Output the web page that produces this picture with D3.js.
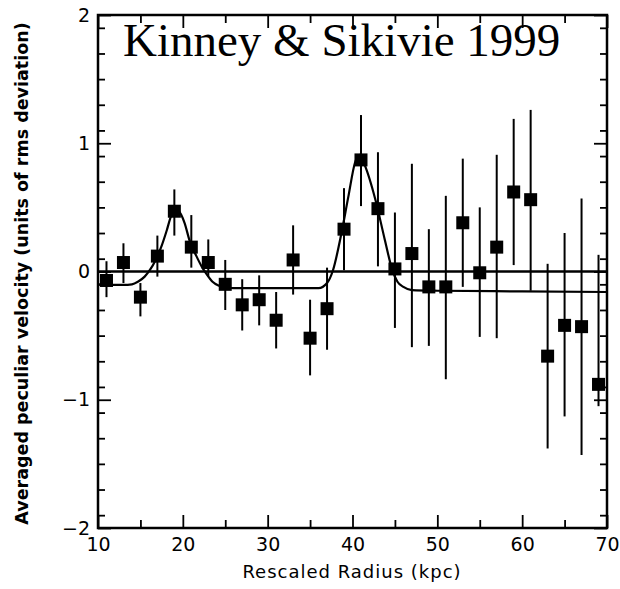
<!DOCTYPE html>
<html>
<head>
<meta charset="utf-8">
<script src="https://cdn.jsdelivr.net/npm/d3@7"></script>
<style>
  html, body { margin: 0; padding: 0; background: #fff; }
  svg text { fill: #000; }
</style>
</head>
<body>
<svg id="chart" width="620" height="589"></svg>
<script>
// data
const radius = [11, 13, 15, 17, 19, 21, 23, 25, 27, 29, 31, 33, 35, 37, 39,
                41, 43, 45, 47, 49, 51, 53, 55, 57, 59, 61, 63, 65, 67, 69];
const velocity = [-0.07, 0.07, -0.20, 0.12, 0.47, 0.19, 0.07, -0.10, -0.26, -0.22,
                  -0.38, 0.09, -0.52, -0.29, 0.33, 0.87, 0.49, 0.02, 0.14, -0.12,
                  -0.12, 0.38, -0.01, 0.19, 0.62, 0.56, -0.66, -0.42, -0.43, -0.88];
const errHigh = [0.08, 0.22, -0.09, 0.28, 0.64, 0.44, 0.25, 0.09, -0.06, -0.03,
                 -0.16, 0.36, -0.22, 0.03, 0.65, 1.22, 0.93, 0.46, 0.84, 0.33,
                 0.59, 0.88, 0.50, 0.91, 1.19, 1.26, 0.06, 0.30, 0.57, 0.13];
const errLow = [-0.20, -0.09, -0.35, -0.04, 0.28, 0.03, -0.04, -0.30, -0.46, -0.42,
                -0.60, -0.18, -0.81, -0.61, 0.01, 0.51, 0.04, -0.44, -0.59, -0.58,
                -0.84, -0.12, -0.51, -0.52, 0.05, -0.15, -1.38, -1.13, -1.43, -1.05];

// fitted curve (caustic model), traced point by point
const fitX = [10, 13, 14, 14.7, 15.5, 16.1, 16.8, 17.5, 18.1, 18.6, 19.0, 19.5, 20.2,
              20.8, 21.6, 22.3, 22.8, 23.5, 24.2, 25, 26, 30, 36, 37, 37.7, 38.7,
              39.5, 40.3, 40.8, 41.5, 42.7, 43.8, 44.7, 45.3, 46, 47, 50, 60, 70];
const fitY = [-0.10, -0.105, -0.10, -0.08, -0.04, 0.01, 0.09, 0.20, 0.32, 0.43, 0.48,
              0.47, 0.38, 0.24, 0.12, 0.03, -0.02, -0.08, -0.11, -0.125, -0.13, -0.13,
              -0.13, -0.09, 0.01, 0.30, 0.58, 0.85, 0.91, 0.82, 0.56, 0.25, 0.01,
              -0.08, -0.12, -0.145, -0.15, -0.155, -0.16];

const xMajor = [10, 20, 30, 40, 50, 60, 70];
const xMinor = [15, 25, 35, 45, 55, 65];
const yMajor = [-2, -1, 0, 1, 2];
const yMinor = d3.range(-19, 20, 2).map(d => d / 10).filter(d => Math.abs(d) !== 1);

const margin = { top: 15, right: 13, bottom: 61, left: 98 };
const W = 620, H = 589;
const width = W - margin.left - margin.right;
const height = H - margin.top - margin.bottom;

const svg = d3.select("#chart");
const g = svg.append("g").attr("transform", `translate(${margin.left},${margin.top})`);

const x = d3.scaleLinear().domain([10, 70]).range([0, width]);
const y = d3.scaleLinear().domain([-2, 2]).range([height, 0]);

const tickFont = "DejaVu Sans, sans-serif";

// axes: ticks point inward on all four sides
function styleAxis(sel) {
    sel.select(".domain").remove();
    sel.selectAll(".tick line").attr("stroke", "#000").attr("stroke-width", 1.8);
    sel.selectAll(".tick text").attr("font-family", tickFont).attr("font-size", 19).attr("fill", "#000");
}

g.append("g").attr("transform", `translate(0,${height})`)
    .call(d3.axisBottom(x).tickValues(xMajor).tickSizeInner(-13).tickSizeOuter(0).tickPadding(10))
    .call(styleAxis);
g.append("g").attr("transform", `translate(0,${height})`)
    .call(d3.axisBottom(x).tickValues(xMinor).tickSizeInner(-8).tickSizeOuter(0).tickFormat(""))
    .call(styleAxis);
g.append("g")
    .call(d3.axisTop(x).tickValues(xMajor).tickSizeInner(-13).tickSizeOuter(0).tickFormat(""))
    .call(styleAxis);
g.append("g")
    .call(d3.axisTop(x).tickValues(xMinor).tickSizeInner(-8).tickSizeOuter(0).tickFormat(""))
    .call(styleAxis);

g.append("g")
    .call(d3.axisLeft(y).tickValues(yMajor).tickSizeInner(-13).tickSizeOuter(0).tickPadding(8)
        .tickFormat(d => d < 0 ? "\u2212" + Math.abs(d) : d))
    .call(styleAxis);
g.append("g")
    .call(d3.axisLeft(y).tickValues(yMinor).tickSizeInner(-7).tickSizeOuter(0).tickFormat(""))
    .call(styleAxis);
g.append("g").attr("transform", `translate(${width},0)`)
    .call(d3.axisRight(y).tickValues(yMajor).tickSizeInner(-13).tickSizeOuter(0).tickFormat(""))
    .call(styleAxis);
g.append("g").attr("transform", `translate(${width},0)`)
    .call(d3.axisRight(y).tickValues(yMinor).tickSizeInner(-7).tickSizeOuter(0).tickFormat(""))
    .call(styleAxis);

// frame
g.append("rect")
    .attr("x", 0).attr("y", 0)
    .attr("width", width).attr("height", height)
    .attr("fill", "none")
    .attr("stroke", "#000")
    .attr("stroke-width", 2.5);

// zero line
g.append("line")
    .attr("x1", 0).attr("x2", width)
    .attr("y1", y(0)).attr("y2", y(0))
    .attr("stroke", "#000")
    .attr("stroke-width", 2.5);

// fitted curve
const fitPts = fitX.map((v, i) => [v, fitY[i]]);
g.append("path")
    .datum(fitPts)
    .attr("fill", "none")
    .attr("stroke", "#000")
    .attr("stroke-width", 2.2)
    .attr("d", d3.line().x(d => x(d[0])).y(d => y(d[1])).curve(d3.curveMonotoneX));

// error bars
const pts = radius.map((r, i) => ({ r, v: velocity[i], lo: errLow[i], hi: errHigh[i] }));
g.selectAll(".err")
    .data(pts)
    .enter()
    .append("line")
    .attr("class", "err")
    .attr("x1", d => x(d.r)).attr("x2", d => x(d.r))
    .attr("y1", d => y(d.hi)).attr("y2", d => y(d.lo))
    .attr("stroke", "#000")
    .attr("stroke-width", 2);

// square markers
const sq = 13;
g.selectAll(".pt")
    .data(pts)
    .enter()
    .append("rect")
    .attr("class", "pt")
    .attr("x", d => x(d.r) - sq / 2)
    .attr("y", d => y(d.v) - sq / 2)
    .attr("width", sq).attr("height", sq)
    .attr("fill", "#000");

// title inside the plot
g.append("text")
    .attr("x", 25).attr("y", 41)
    .attr("font-family", "Liberation Serif, Times New Roman, serif")
    .attr("font-size", 47)
    .text("Kinney & Sikivie 1999");

// axis titles
svg.append("text")
    .attr("x", 352).attr("y", 578)
    .attr("text-anchor", "middle")
    .attr("font-family", tickFont)
    .attr("font-size", 18)
    .attr("letter-spacing", 1)
    .text("Rescaled Radius (kpc)");

svg.append("text")
    .attr("transform", `translate(28,${margin.top + height / 2 + 2}) rotate(-90)`)
    .attr("text-anchor", "middle")
    .attr("font-family", tickFont)
    .attr("font-size", 17.5)
    .attr("font-weight", "bold")
    .text("Averaged peculiar velocity (units of rms deviation)");
</script>
</body>
</html>
